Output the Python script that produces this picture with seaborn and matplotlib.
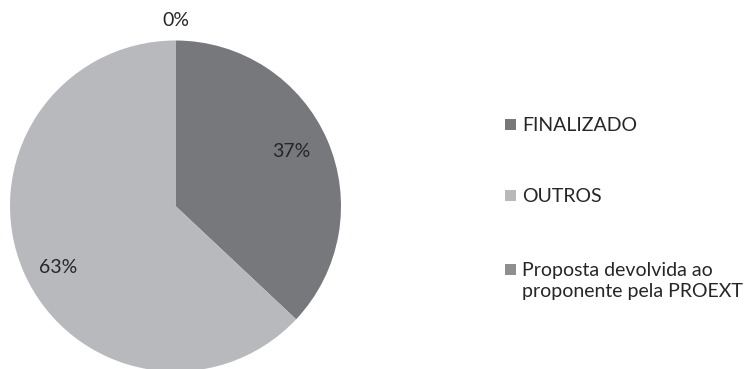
import matplotlib
matplotlib.use("Agg")
import matplotlib.pyplot as plt
from matplotlib.patches import Rectangle
import numpy as np
import seaborn as sns

# Status breakdown of proposals
categories = ["FINALIZADO", "OUTROS", "Proposta devolvida ao\nproponente pela PROEXT"]
values = [37, 63, 0]
pct_labels = ["37%", "63%", "0%"]
colors = ["#77787c", "#b8b9bd", "#8e8f93"]
# placement of each percentage label: radius (fraction of pie radius) and angle nudge (deg)
label_radius = [0.77, 0.80, 1.12]
label_nudge = [1.8, 4.4, 0.0]

sns.set_theme(style="white")
plt.rcParams["font.family"] = ["Lato", "DejaVu Sans"]

W, H = 755, 369
fig = plt.figure(figsize=(W / 100, H / 100), dpi=100)
cx, cy, r = 175.5, 206, 165.5
ax = fig.add_axes([(cx - r) / W, (H - cy - r) / H, 2 * r / W, 2 * r / H])

wedges, _ = ax.pie(values, colors=colors, startangle=90, counterclock=False,
                   radius=1, wedgeprops=dict(linewidth=0))
ax.set_xlim(-1, 1)
ax.set_ylim(-1, 1)
ax.set_aspect("equal")
ax.axis("off")

text_color = "#262626"
for w, lab, lr, nd in zip(wedges, pct_labels, label_radius, label_nudge):
    mid = np.deg2rad((w.theta1 + w.theta2) / 2 + nd)
    ax.text(lr * np.cos(mid), lr * np.sin(mid), lab, ha="center", va="center",
            fontsize=14, color=text_color, clip_on=False)

# Legend: square swatch followed by label, one entry per category
legend_x = 505          # pixel x of the swatches
baselines = [130.7, 201.7, 275.7]   # pixel y of each label's first baseline
sq = 11
for cat, col, base in zip(categories, colors, baselines):
    fig.patches.append(Rectangle((legend_x / W, 1 - (base - 1) / H), sq / W, sq / H,
                                 transform=fig.transFigure, facecolor=col,
                                 edgecolor="none"))
    for k, line in enumerate(cat.split("\n")):
        fig.text((legend_x + sq + 6.5) / W, 1 - (base + 21.5 * k) / H, line,
                 ha="left", va="baseline", fontsize=14, color=text_color)

fig.savefig("out.png", dpi=100, facecolor="white")
